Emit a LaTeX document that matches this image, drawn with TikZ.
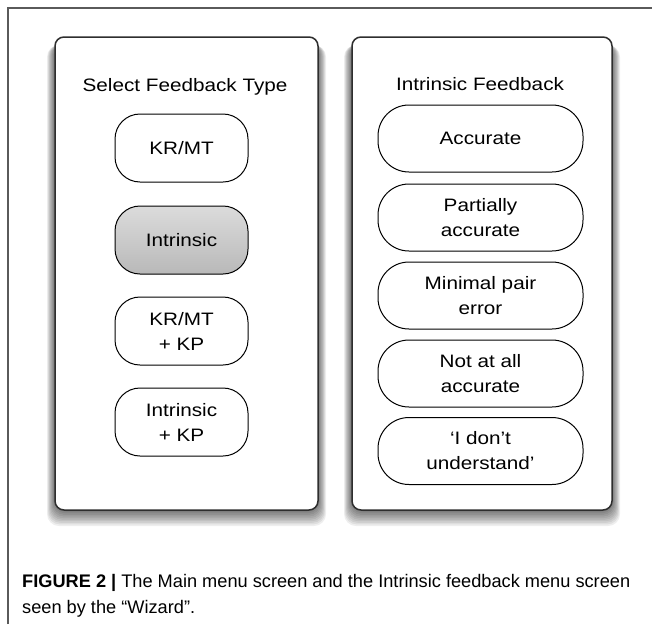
\documentclass[tikz,border=0pt]{standalone}
\usepackage{fontspec}
\setmainfont{Liberation Sans}
\newfontfamily\panelfont[FakeStretch=1.15]{Liberation Sans}
\definecolor{framegray}{HTML}{5A5A5A}
\definecolor{paneledge}{HTML}{2E2E2E}
\tikzset{
  panel/.style={draw=paneledge, line width=1.5pt, fill=white, rounded corners=9pt, inner sep=0pt},
  paneltitle/.style={anchor=base, font=\panelfont\fontsize{18}{25}\selectfont, inner sep=0pt},
  lbtn/.style={draw=black, line width=1pt, fill=white, rounded corners=25pt,
    minimum width=133pt, minimum height=68pt, align=center, inner sep=0pt,
    font=\panelfont\fontsize{18}{25}\selectfont},
  rbtn/.style={lbtn, rounded corners=31pt, minimum width=205pt, minimum height=67pt},
  selbtn/.style={top color=gray!28, middle color=gray!10, bottom color=gray!55},
  captext/.style={anchor=base west, inner sep=0pt, font=\fontsize{18.2}{26}\selectfont},
  shadowlayer/.style={black, opacity=0.065, rounded corners=12pt}
}
\begin{document}
\begin{tikzpicture}[x=1pt,y=-1pt]
\useasboundingbox (0,0) rectangle (652,624);
\fill[white] (0,0) rectangle (652,624);
\draw[framegray, line width=1.3pt] (8,624) -- (8,8) -- (652,8);
% shadows
\foreach \i in {1,...,10}{
  \fill[shadowlayer] (55-\i*0.8, 42+\i*0.3) rectangle (318+\i*0.8, 510+\i*1.6);
  \fill[shadowlayer] (352-\i*0.8, 42+\i*0.3) rectangle (612+\i*0.8, 510+\i*1.6);
}
% panels
\node[panel, minimum width=263pt, minimum height=473pt] (lp) at (186.5,273.5) {};
\node[panel, minimum width=260pt, minimum height=473pt] (rp) at (482,273.5) {};
\node[paneltitle] (lt) at (185,91) {Select Feedback Type};
\node[paneltitle] (rt) at (480,90) {Intrinsic Feedback};
% left buttons
\node[lbtn] (kr) at (181.5,148) {KR/MT};
\node[lbtn, selbtn] (in) at (181.5,240) {Intrinsic};
\node[lbtn] (krkp) at (181.5,331) {KR/MT\\+ KP};
\node[lbtn] (inkp) at (181.5,422) {Intrinsic\\+ KP};
% right buttons
\node[rbtn] (acc) at (480.5,138.5) {Accurate};
\node[rbtn] (part) at (480.5,217.5) {Partially\\accurate};
\node[rbtn] (minp) at (480.5,295.5) {Minimal pair\\error};
\node[rbtn] (notc) at (480.5,373.5) {Not at all\\accurate};
\node[rbtn] (dont) at (480.5,451) {‘I don’t\\understand’};
% caption
\node[captext] (cap1) at (22,587) {\textbf{FIGURE 2 |} The Main menu screen and the Intrinsic feedback menu screen};
\node[captext] (cap2) at (22,613) {seen by the “Wizard”.};
\end{tikzpicture}
\end{document}
